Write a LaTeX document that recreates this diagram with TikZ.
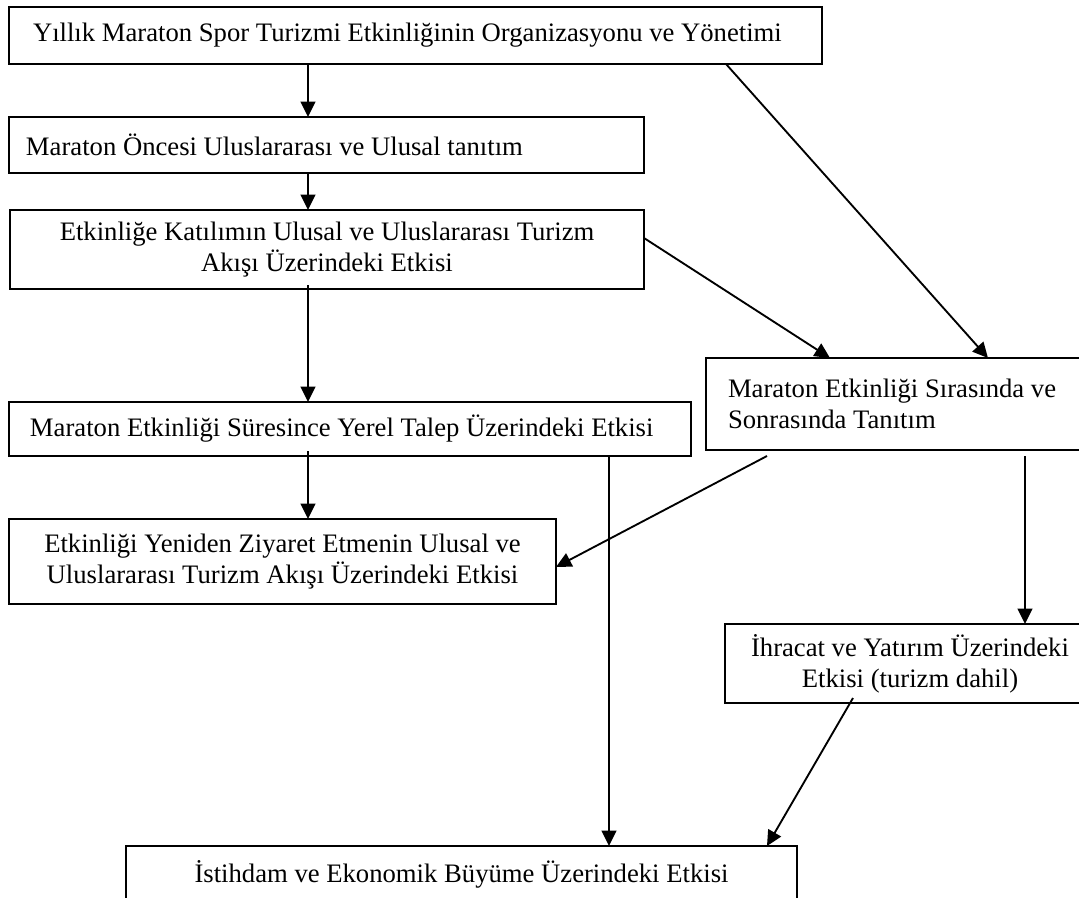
\documentclass[tikz,border=0pt]{standalone}
\usepackage{fontspec}
\setmainfont{Liberation Serif}
\usetikzlibrary{arrows.meta,calc}
\begin{document}
\begin{tikzpicture}[x=0.75pt,y=-0.75pt,
  every node/.style={font=\fontsize{20}{23}\selectfont},
  box/.style={draw=black,line width=1.4pt,inner ysep=0pt,outer sep=0pt},
  lbox/.style={box,align=flush left},
  cbox/.style={box,align=center,inner xsep=0pt},
  arr/.style={line width=1.4pt,-{Triangle[length=11.5pt,width=11pt]}}]
\useasboundingbox (0,0) rectangle (1079,897);
\clip (0,0) rectangle (1079,897);
\fill[white] (0,0) rectangle (1079,897);
\node[lbox,minimum width=609.75pt,minimum height=42.75pt,inner xsep=18pt,text width=573.75pt] (b1) at (415.5,35.5)
  {Yıllık Maraton Spor Turizmi Etkinliğinin Organizasyonu ve Yönetimi};
\node[lbox,minimum width=476.25pt,minimum height=42pt,inner xsep=12.75pt,text width=450.75pt] (b2) at (326.5,145)
  {Maraton Öncesi Uluslararası ve Ulusal tanıtım};
\node[cbox,minimum width=475.5pt,minimum height=59.25pt] (b3) at (327,249.5)
  {Etkinliğe Katılımın Ulusal ve Uluslararası Turizm\\Akışı Üzerindeki Etkisi};
\node[lbox,minimum width=511.5pt,minimum height=40.5pt,inner xsep=15.75pt,text width=480pt] (b4) at (350,429)
  {Maraton Etkinliği Süresince Yerel Talep Üzerindeki Etkisi};
\node[cbox,minimum width=410.25pt,minimum height=63.75pt] (b5) at (282.5,561.5)
  {Etkinliği Yeniden Ziyaret Etmenin Ulusal ve\\Uluslararası Turizm Akışı Üzerindeki Etkisi};
\node[lbox,minimum width=291.75pt,minimum height=69pt,inner xsep=16.5pt,text width=258.75pt] (b6) at (900.5,404)
  {Maraton Etkinliği Sırasında ve\\Sonrasında Tanıtım\\[4pt]};
\node[cbox,minimum width=277.5pt,minimum height=59.25pt] (b7) at (910,663.5)
  {İhracat ve Yatırım Üzerindeki\\Etkisi (turizm dahil)};
\node[cbox,minimum width=503.25pt,minimum height=42pt] (b8) at (461.5,874)
  {İstihdam ve Ekonomik Büyüme Üzerindeki Etkisi};
% connectors
\draw[arr] (b1.south -| 308,0) -- (b2.north -| 308,0);
\draw[arr] (b2.south -| 308,0) -- (b3.north -| 308,0);
\draw[arr] ($(b3.south -| 308,0)+(0,-4)$) -- (b4.north -| 308,0);
\draw[arr] ($(b4.south -| 308,0)+(0,-5)$) -- (b5.north -| 308,0);
\draw[arr] (b1.south -| 726,0) -- (b6.north -| 988,0);
\draw[arr] (b3.east |- 0,238) -- (b6.north -| 830,0);
\draw[arr] ($(b6.south -| 767,0)+(0,6)$) -- (b5.east |- 0,567);
\draw[arr] ($(b6.south -| 1025,0)+(0,6)$) -- (b7.north -| 1025,0);
\draw[arr] (b4.south -| 609,0) -- (b8.north -| 609,0);
\draw[arr] ($(b7.south -| 853,0)+(0,-5)$) -- (b8.north -| 767,0);
\end{tikzpicture}
\end{document}
